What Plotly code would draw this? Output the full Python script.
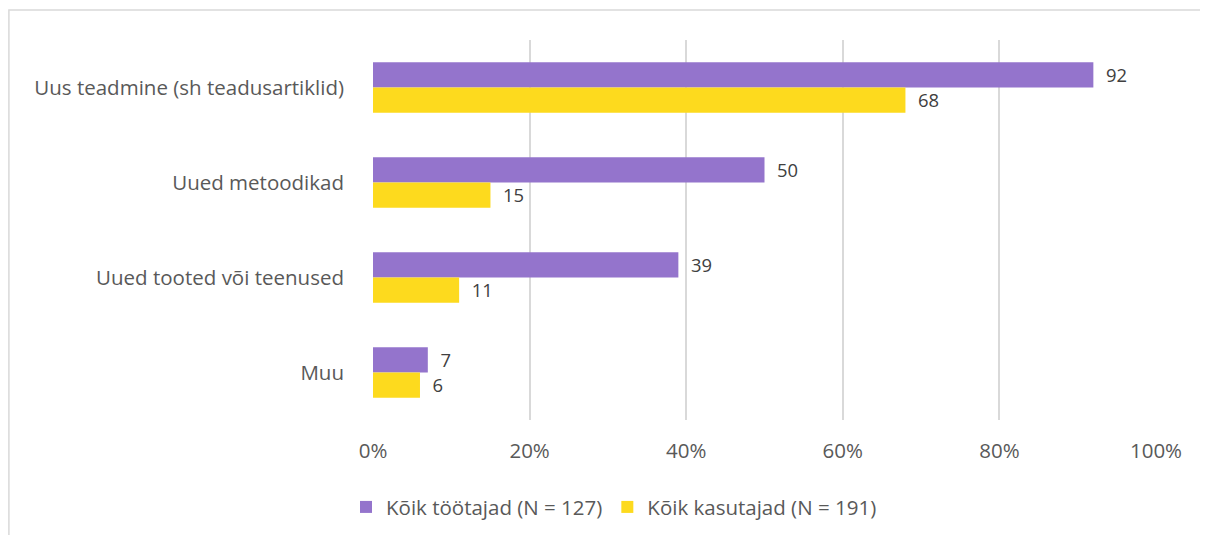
import plotly.graph_objects as go

categories = [
    "Uus teadmine (sh teadusartiklid)",
    "Uued metoodikad",
    "Uued tooted või teenused",
    "Muu",
]
tootajad = [92, 50, 39, 7]
kasutajad = [68, 15, 11, 6]
series_names = ["Kõik töötajad (N = 127)", "Kõik kasutajad (N = 191)"]
x_ticks = [0, 20, 40, 60, 80, 100]

FONT = "Open Sans, Lato, sans-serif"
SIZE = 20.5

fig = go.Figure()
for name, values, color in [
    (series_names[0], tootajad, "#9474CC"),
    (series_names[1], kasutajad, "#FDDA1E"),
]:
    fig.add_trace(
        go.Bar(
            y=categories,
            x=values,
            name=name,
            orientation="h",
            marker=dict(color=color, line=dict(width=0)),
            text=["\u00a0\u00a0" + str(v) for v in values],
            textposition="outside",
            textfont=dict(size=SIZE, color="#404040", family=FONT),
            cliponaxis=False,
        )
    )

# light frame around the chart, as in the spreadsheet export
fig.add_shape(
    type="rect", xref="paper", yref="paper",
    x0=-0.465, x1=1.3, y0=-0.5, y1=1.079,
    line=dict(color="#D9D9D9", width=1.5), fillcolor="rgba(0,0,0,0)",
    layer="below",
)

# the page body has an 8px margin, so the figure is sized to fit inside it
fig.update_layout(
    width=1200,
    height=527,
    margin=dict(l=365, r=52, t=32, b=115),
    paper_bgcolor="white",
    plot_bgcolor="white",
    barmode="group",
    bargap=0.47,
    bargroupgap=0,
    font=dict(family=FONT, size=SIZE, color="#595959"),
    xaxis=dict(
        range=[0, 100],
        tickvals=x_ticks,
        ticktext=[f"{v}%" for v in x_ticks],
        showgrid=True,
        gridcolor="#D9D9D9",
        gridwidth=1.5,
        zeroline=False,
        showline=False,
        ticklabelstandoff=16,
        tickfont=dict(size=SIZE, color="#595959"),
    ),
    yaxis=dict(
        autorange="reversed",
        showgrid=False,
        showline=False,
        ticklabelstandoff=28,
        tickfont=dict(size=SIZE, color="#595959"),
    ),
    legend=dict(
        orientation="h",
        xref="container",
        x=0.505,
        xanchor="center",
        yref="container",
        y=0.015,
        yanchor="bottom",
        font=dict(size=SIZE, color="#595959"),
        itemwidth=30,
        tracegroupgap=0,
    ),
)

fig.write_html("out.html")
